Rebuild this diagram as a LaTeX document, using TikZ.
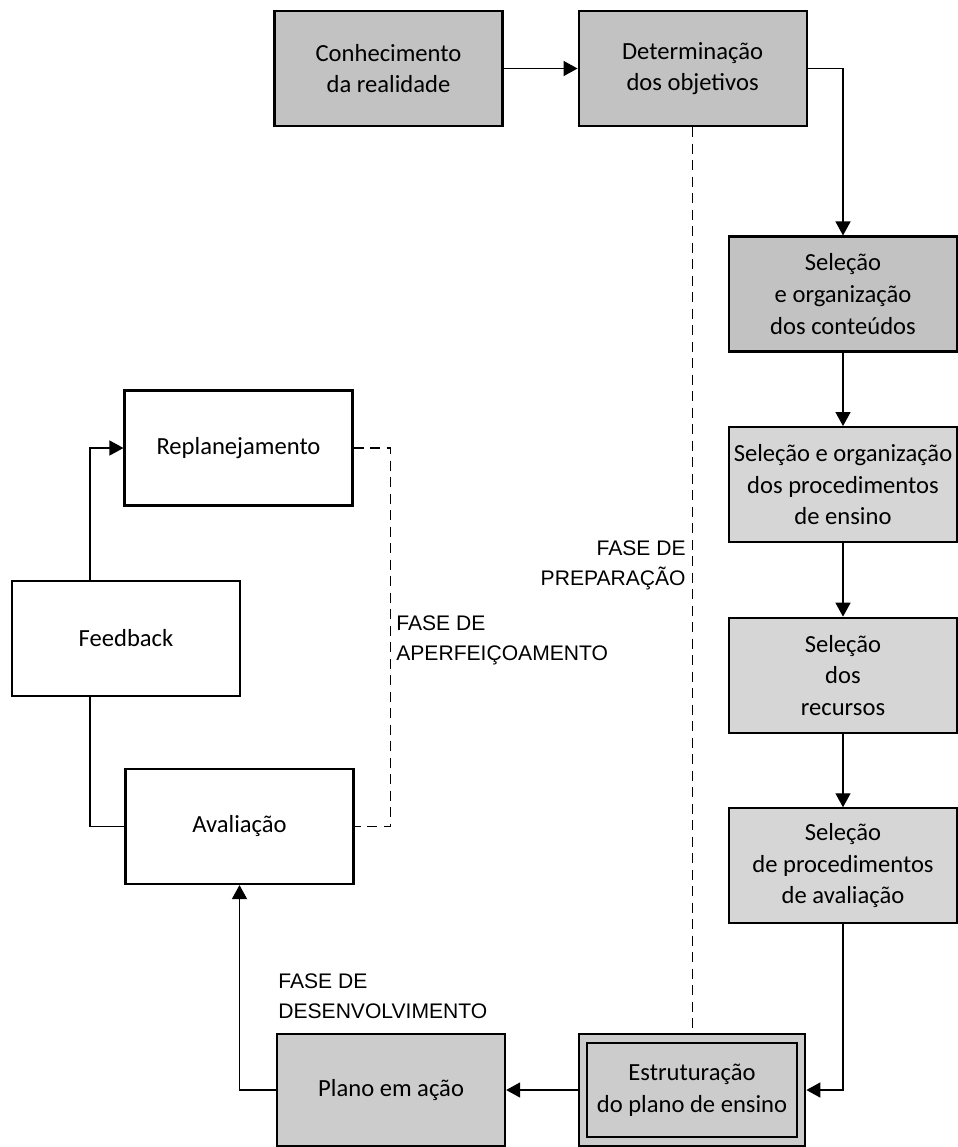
\documentclass[tikz,border=0pt]{standalone}
\usepackage{fontspec}
\setmainfont{Liberation Sans}
\newfontfamily\boxfont{Carlito}
\usetikzlibrary{arrows.meta, positioning}

\definecolor{darkshade}{gray}{0.76}
\definecolor{lightshade}{gray}{0.84}
\definecolor{dotshade}{gray}{0.80}

\begin{document}
\begin{tikzpicture}[
        node distance=1.47cm,
        box/.style={rectangle, draw, line width=1.2pt, minimum width=4.56cm, minimum height=2.3cm, inner sep=0pt, align=center, font=\boxfont\fontsize{14}{18}\selectfont},
        darkbox/.style={box, fill=darkshade},
        lightbox/.style={box, fill=lightshade},
        plainbox/.style={box, fill=white},
        arrow/.style={-{Triangle[length=0.28cm, width=0.3cm]}, line width=0.8pt},
        link/.style={line width=0.8pt},
        phase/.style={dash pattern=on 0.2cm off 0.13cm, line width=0.8pt},
        phaselabel/.style={font=\fontsize{12}{17}\selectfont, inner sep=0pt}
    ]
        \useasboundingbox (0,0) rectangle (19.16,-22.94);

        % Preparation phase
        \node[darkbox] (realidade) at (7.77,-1.37) {Conhecimento\\da realidade};
        \node[darkbox, right=1.48cm of realidade] (objetivos) {Determinação\\dos objetivos};
        \node[darkbox] (conteudos) at (16.86,-5.88) {Seleção\\e organização\\dos conteúdos};
        \node[lightbox, below=of conteudos] (ensino) {Seleção e organização\\dos procedimentos\\de ensino};
        \node[lightbox, below=of ensino] (recursos) {Seleção\\dos\\recursos};
        \node[lightbox, below=of recursos] (avalproc) {Seleção\\de procedimentos\\de avaliação};
        \node[box, fill=dotshade, double=dotshade, double distance=0.13cm, minimum width=4.36cm, minimum height=2.06cm, outer sep=0.107cm] (estrutura) at (13.84,-21.8) {Estruturação\\do plano de ensino};

        % Development and improvement phases
        \node[box, fill=dotshade, minimum height=2.24cm, left=1.43cm of estrutura] (plano) {Plano em ação};
        \node[plainbox] (avaliacao) at (4.79,-16.53) {Avaliação};
        \node[plainbox] (feedback) at (2.52,-12.77) {Feedback};
        \node[plainbox] (replanejamento) at (4.77,-8.96) {Replanejamento};
        \coordinate (loop) at (1.8,0);

        % Phase labels
        \node[phaselabel, anchor=east, align=right] (preparacao) at (13.72,-11.30) {FASE DE\\PREPARAÇÃO};
        \node[phaselabel, anchor=west, align=left] (aperfeicoamento) at (7.92,-12.80) {FASE DE\\APERFEIÇOAMENTO};
        \node[phaselabel, anchor=west, align=left] (desenvolvimento) at (5.56,-19.92) {FASE DE\\DESENVOLVIMENTO};

        % Main flow arrows
        \draw[arrow] (realidade) -- (objetivos);
        \draw[arrow] (objetivos.east) -| (conteudos.north);
        \draw[arrow] (conteudos) -- (ensino);
        \draw[arrow] (ensino) -- (recursos);
        \draw[arrow] (recursos) -- (avalproc);
        \draw[arrow] (avalproc.south) |- (estrutura.east);
        \draw[arrow] (estrutura) -- (plano);
        \draw[arrow] (plano.west) -| (avaliacao.south);

        % Feedback loop
        \draw[link] (avaliacao.west) -| (feedback.south -| loop);
        \draw[arrow] (feedback.north -| loop) |- (replanejamento.west);

        % Phase dividers
        \draw[phase] (objetivos.south) -- (objetivos.south |- estrutura.north);
        \draw[phase] (replanejamento.east) -- ++(0.74,0) |- (avaliacao.east);
\end{tikzpicture}
\end{document}
